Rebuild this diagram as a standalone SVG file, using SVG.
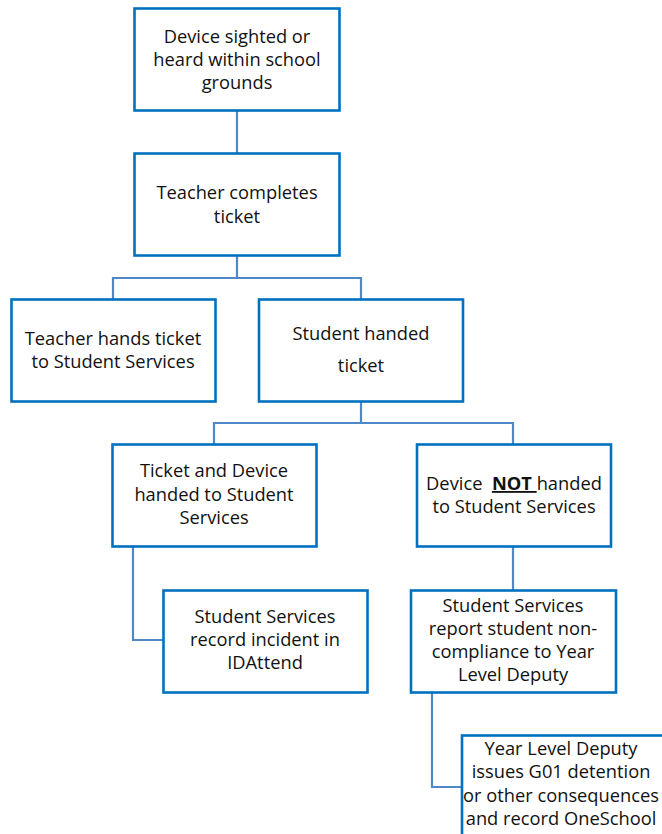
<svg xmlns="http://www.w3.org/2000/svg" width="662" height="834" viewBox="0 0 662 834">
<style>
.box{fill:#ffffff;stroke:#0070C0;stroke-width:2.6}
.t{font-family:"Open Sans","Liberation Sans",sans-serif;font-size:18.3px;fill:#111111;text-anchor:middle}
.c{fill:none;stroke:#4F88C6;stroke-width:2.2}
</style>
<rect width="662" height="834" fill="#ffffff"/>
<g id="connectors">
<path class="c" d="M237 111 V153"/>
<path class="c" d="M237 256 V278 H113 V299 M237 278 H361 V299"/>
<path class="c" d="M361 402 V423 H214 V444 M361 423 H513 V444"/>
<path class="c" d="M133 547 V640 H163"/>
<path class="c" d="M513 547 V590"/>
<path class="c" d="M432 693 V787 H462"/>
</g>
<g id="n1">
<rect class="box" x="134.5" y="8.5" width="205" height="102"/>
<text class="t"><tspan x="237" y="43">Device sighted or</tspan><tspan x="237" y="66">heard within school</tspan><tspan x="237" y="89">grounds</tspan></text>
</g>
<g id="n2">
<rect class="box" x="134.5" y="153.5" width="205" height="102"/>
<text class="t"><tspan x="237" y="199">Teacher completes</tspan><tspan x="237" y="223">ticket</tspan></text>
</g>
<g id="n3">
<rect class="box" x="11.5" y="299.5" width="204" height="102"/>
<text class="t"><tspan x="113" y="345">Teacher hands ticket</tspan><tspan x="113" y="368">to Student Services</tspan></text>
</g>
<g id="n4">
<rect class="box" x="259" y="299.5" width="204" height="102"/>
<text class="t"><tspan x="361" y="340">Student handed</tspan><tspan x="361" y="372">ticket</tspan></text>
</g>
<g id="n5">
<rect class="box" x="112.5" y="444.5" width="204" height="102"/>
<text class="t"><tspan x="214" y="477">Ticket and Device</tspan><tspan x="214" y="501">handed to Student</tspan><tspan x="214" y="524">Services</tspan></text>
</g>
<g id="n6">
<rect class="box" x="417" y="444.5" width="194" height="102"/>
<text class="t" style="white-space:pre" x="514" y="490">Device  <tspan font-weight="bold" text-decoration="underline">NOT </tspan>handed</text>
<text class="t" x="514" y="513">to Student Services</text>
</g>
<g id="n7">
<rect class="box" x="163.5" y="590.5" width="204" height="102"/>
<text class="t"><tspan x="265" y="623">Student Services</tspan><tspan x="265" y="646">record incident in</tspan><tspan x="265" y="669">IDAttend</tspan></text>
</g>
<g id="n8">
<rect class="box" x="411" y="590.5" width="205" height="102"/>
<text class="t"><tspan x="513" y="612">Student Services</tspan><tspan x="513" y="635">report student non-</tspan><tspan x="513" y="658">compliance to Year</tspan><tspan x="513" y="681">Level Deputy</tspan></text>
</g>
<g id="n9">
<rect class="box" x="462" y="735.5" width="212" height="110"/>
<text class="t"><tspan x="561" y="755">Year Level Deputy</tspan><tspan x="561" y="778">issues G01 detention</tspan><tspan x="561" y="802">or other consequences</tspan><tspan x="561" y="825">and record OneSchool</tspan></text>
</g>
</svg>
